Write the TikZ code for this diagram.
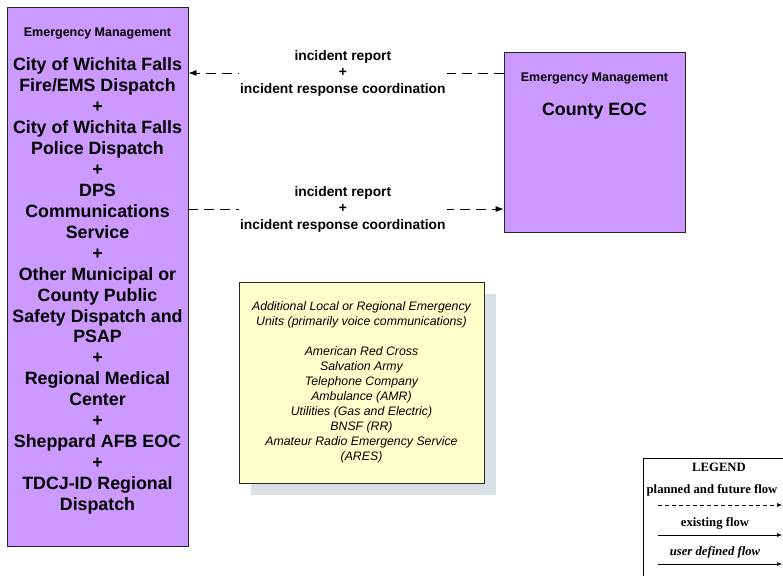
\documentclass[tikz,border=0pt]{standalone}
\usepackage{fontspec}
\setmainfont{Liberation Sans}
\newfontfamily\legendfont{Liberation Serif}
\usepackage{xcolor}
\usetikzlibrary{calc, positioning, shadows, arrows.meta}

\definecolor{lilac}{HTML}{CC99FF}
\definecolor{paleyellow}{HTML}{FFFFCC}
\definecolor{shadowgrey}{HTML}{D8E0E6}

\begin{document}
\begin{tikzpicture}[>={Latex[length=8pt,width=6pt]}, x=1pt, y=-1pt,
    unitbox/.style={draw=black!85, fill=lilac, line width=0.8pt},
    headtxt/.style={font=\fontsize{12.5}{14}\selectfont\bfseries},
    bigtxt/.style={align=center, font=\fontsize{17.8}{20.95}\selectfont\bfseries},
    flow/.style={dash pattern=on 10pt off 6pt, line width=0.8pt},
    flowlbl/.style={fill=white, inner xsep=1pt, inner ysep=0pt, align=center,
        font=\fontsize{13.8}{16.5}\selectfont\bfseries},
    legtxt/.style={font=\legendfont\fontsize{12.7}{14}\selectfont\bfseries},
    legline/.style={-{Latex[length=5pt,width=4pt]}, line width=0.6pt}]
    \useasboundingbox (0,0) rectangle (783,575);

    % Các khối chính
    \node[unitbox, minimum width=181pt, minimum height=539pt] (dispatch) at (97.5,276.5) {};
    \node[headtxt] (dispatchhead) at (97.5,34) {Emergency Management};
    \node[bigtxt] (dispatchtxt) at (97.5,286) {City of Wichita Falls\\Fire/EMS Dispatch\\+\\
        City of Wichita Falls\\Police Dispatch\\+\\DPS\\Communications\\Service\\+\\
        Other Municipal or\\County Public\\Safety Dispatch and\\PSAP\\+\\
        Regional Medical\\Center\\+\\Sheppard AFB EOC\\+\\TDCJ-ID Regional\\Dispatch};

    \node[unitbox, minimum width=181pt, minimum height=180pt] (eoc) at (594.5,142) {};
    \node[headtxt] (eochead) at (594.5,79) {Emergency Management};
    \node[font=\fontsize{17.8}{20}\selectfont\bfseries] (eoctxt) at (594.5,111) {County EOC};

    % Luồng thông tin
    \coordinate (inA) at ([yshift=69pt]eoc.west);
    \coordinate (inB) at ([yshift=-67pt]eoc.west);
    \draw[flow, ->] (inA) -- (inA -| dispatch.east)
        node[flowlbl, pos=0.51] (lblA) {incident report\\+\\incident response coordination};
    \draw[flow, ->] (inB -| dispatch.east) -- (inB)
        node[flowlbl, pos=0.49] (lblB) {incident report\\+\\incident response coordination};

    % Các đơn vị bổ sung
    \node[draw=black!85, fill=paleyellow, line width=0.6pt, minimum width=245pt,
        minimum height=201pt, align=center,
        font=\fontsize{12.3}{15}\selectfont\itshape,
        drop shadow={shadow xshift=12pt, shadow yshift=-12pt, fill=shadowgrey, opacity=1}]
        (extra) at (361.5,382.5)
        {Additional Local or Regional Emergency\\Units (primarily voice communications)\\[15pt]
         American Red Cross\\Salvation Army\\Telephone Company\\Ambulance (AMR)\\
         Utilities (Gas and Electric)\\BNSF (RR)\\Amateur Radio Emergency Service\\(ARES)};

    % Chú thích
    \draw[line width=0.8pt] (643,458) rectangle (800,600);
    \node[legtxt] (legtitle) at (719,467) {LEGEND};
    \node[legtxt] (legplanned) at (712,490) {planned and future flow};
    \node[legtxt] (legexist) at (715,523) {existing flow};
    \node[font=\legendfont\fontsize{12.7}{14}\selectfont\bfseries\itshape] (leguser) at (715,552) {user defined flow};
    \coordinate (pA) at (658,505);  \coordinate (qA) at (782,505);
    \coordinate (pB) at (658,535);  \coordinate (qB) at (782,535);
    \coordinate (pC) at (658,564);  \coordinate (qC) at (782,564);
    \draw[legline, dash pattern=on 4pt off 3pt] (pA) -- (qA);
    \draw[legline] (pB) -- (qB);
    \draw[legline] (pC) -- (qC);

\end{tikzpicture}
\end{document}
